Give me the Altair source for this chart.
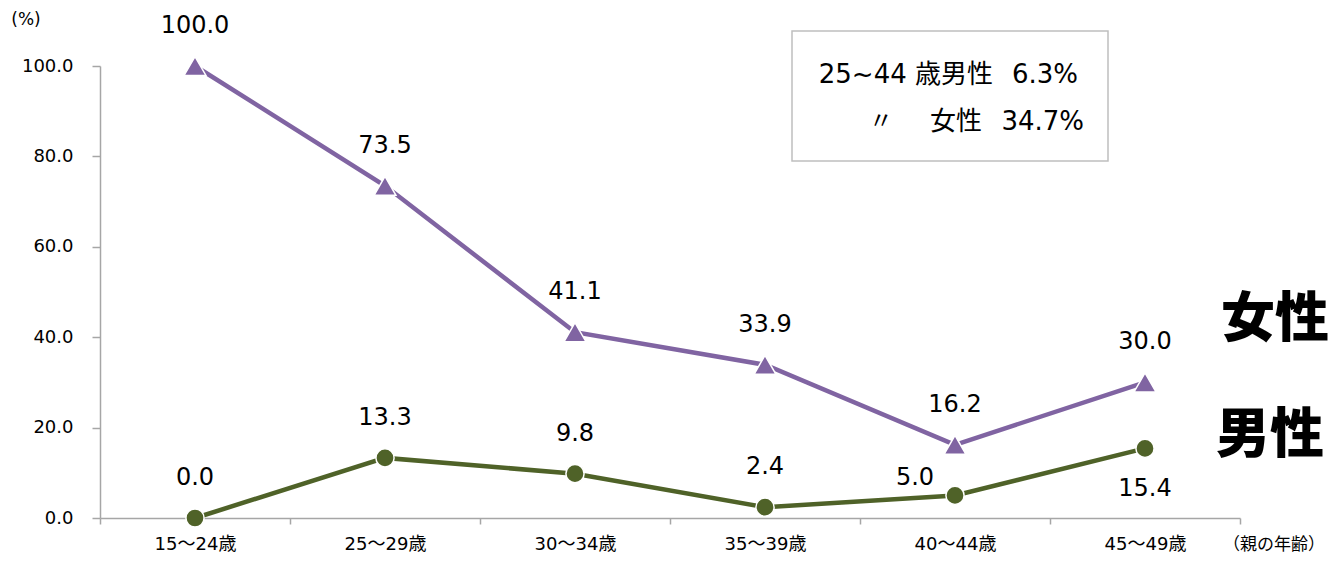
import altair as alt
import pandas as pd

ages = ["15～24歳", "25～29歳", "30～34歳", "35～39歳", "40～44歳", "45～49歳"]
female = [100.0, 73.5, 41.1, 33.9, 16.2, 30.0]
male = [0.0, 13.3, 9.8, 2.4, 5.0, 15.4]

PURPLE = "#8064a2"
GREEN = "#4f6228"
FONT = "DejaVu Sans, Noto Sans CJK JP"

df = pd.DataFrame(
    [{"age": a, "sex": "女性", "v": v} for a, v in zip(ages, female)]
    + [{"age": a, "sex": "男性", "v": v} for a, v in zip(ages, male)]
)

W, H = 1140, 452

x = alt.X(
    "age:N",
    sort=ages,
    scale=alt.Scale(paddingInner=0, paddingOuter=0),
    axis=alt.Axis(
        title=None, labelAngle=0, tickBand="extent", tickSize=6,
        labelPadding=11, labelFontSize=18, labelFont=FONT, labelColor="#000000",
    ),
)
y = alt.Y(
    "v:Q",
    scale=alt.Scale(domain=[0, 100], nice=False),
    axis=alt.Axis(
        title=None, values=[0, 20, 40, 60, 80, 100], format=".1f", tickSize=8,
        labelPadding=19, labelFontSize=18, labelFont=FONT, labelColor="#000000",
    ),
)

base = alt.Chart(df)
fem = base.transform_filter(alt.datum.sex == "女性")
mal = base.transform_filter(alt.datum.sex == "男性")

fem_line = fem.mark_line(color=PURPLE, strokeWidth=4.5).encode(x=x, y=y)
fem_pts = fem.mark_point(shape="triangle-up", filled=True, size=480, color=PURPLE,
                         stroke="white", strokeWidth=1.5, opacity=1).encode(x=x, y=y)
mal_line = mal.mark_line(color=GREEN, strokeWidth=4.5).encode(x=x, y=y)
mal_pts = mal.mark_circle(size=330, color=GREEN, stroke="white", strokeWidth=1.5,
                          opacity=1).encode(x=x, y=y)

lbl = dict(fontSize=24, font=FONT, color="#000000", align="center", baseline="middle")
fem_lbl = fem.mark_text(dy=-40, **lbl).encode(x=x, y=y, text=alt.Text("v:Q", format=".1f"))
mal_lbl_up = mal.transform_filter(
    (alt.datum.age != ages[4]) & (alt.datum.age != ages[5])
).mark_text(dy=-40, **lbl).encode(x=x, y=y, text=alt.Text("v:Q", format=".1f"))
mal_lbl_left = mal.transform_filter(alt.datum.age == ages[4]).mark_text(
    dx=-40, dy=-17, **lbl).encode(x=x, y=y, text=alt.Text("v:Q", format=".1f"))
mal_lbl_down = mal.transform_filter(alt.datum.age == ages[5]).mark_text(
    dy=41, **lbl).encode(x=x, y=y, text=alt.Text("v:Q", format=".1f"))

one = pd.DataFrame({"k": [0]})
ann = alt.Chart(one)

box = ann.mark_rect(fill="white", stroke="#bfbfbf", strokeWidth=1.5).encode(
    x=alt.value(692), x2=alt.value(1008), y=alt.value(-35), y2=alt.value(95))


def txt(s, px, py, align="right", size=26, weight="normal", font=FONT):
    return ann.mark_text(text=s, align=align, baseline="middle", fontSize=size,
                         fontWeight=weight, font=font, color="#000000").encode(
        x=alt.value(px), y=alt.value(py))


texts = [
    txt("25~44 歳男性", 893, 9),
    txt("6.3%", 978, 9),
    txt("〃", 781, 56, align="center", size=24),
    txt("女性", 882, 56),
    txt("34.7%", 984, 56),
    txt("(%)", -74, -46, align="center", size=17),
    txt("（親の年齢）", 1174, 479, align="center", size=17),
    txt("女性", 1175, 255, align="center", size=54, weight=900, font="Noto Sans CJK JP"),
    txt("男性", 1170, 371, align="center", size=54, weight=900, font="Noto Sans CJK JP"),
]

chart = alt.layer(
    fem_line, mal_line, fem_pts, mal_pts, fem_lbl, mal_lbl_up, mal_lbl_left, mal_lbl_down,
    box, *texts,
).properties(
    width=W, height=H,
    autosize=alt.AutoSizeParams(type="none"),
    padding={"left": 92, "top": 58, "right": 93, "bottom": 37},
).configure_view(stroke=None).configure_axis(
    domainColor="#a6a6a6", tickColor="#a6a6a6", grid=False, domainWidth=1.5, tickWidth=1.5,
)

chart.save("out.html", embed_options={"renderer": "svg", "actions": False})
